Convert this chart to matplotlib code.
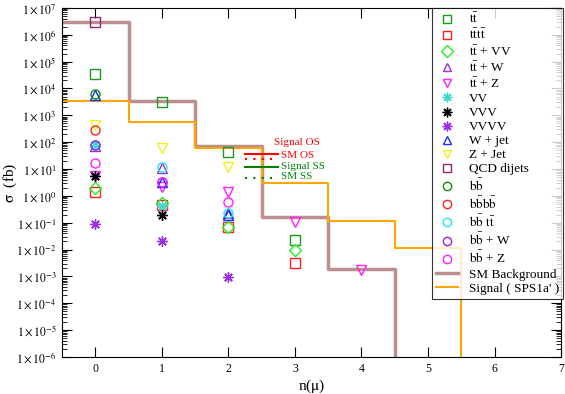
import numpy as np
import matplotlib
matplotlib.use('Agg')
import matplotlib.pyplot as plt
from matplotlib.ticker import LogLocator, FuncFormatter, NullFormatter
from matplotlib.lines import Line2D

plt.rcParams['font.family'] = ['Liberation Serif', 'DejaVu Serif']
plt.rcParams['mathtext.fontset'] = 'stix'

# 直方图: 本底与信号 (每个n(mu)一个bin)
bg_n = [0, 1, 2, 3, 4]
bg_sigma = [3.1e6, 3.3e3, 70, 0.16, 1.9e-3]
sig_n = [0, 1, 2, 3, 4, 5]
sig_sigma = [3.5e3, 580, 60, 3.0, 0.115, 0.011]

# 各SM过程截面 (fb)
tt_n = [0, 1, 2, 3]
tt_sigma = [3.5e4, 3.2e3, 44, 0.022]
tttt_n = [0, 1, 2, 3]
tttt_sigma = [1.4, 0.45, 0.069, 0.0031]
ttvv_n = [0, 1, 2, 3]
ttvv_sigma = [1.9, 0.55, 0.069, 0.0096]
ttw_n = [0, 1, 2]
ttw_sigma = [70, 11, 0.23]
ttz_n = [0, 1, 2, 3, 4]
ttz_sigma = [5.5, 2.1, 1.4, 0.107, 1.8e-3]
vv_n = [0, 1]
vv_sigma = [80, 0.42]
vvv_n = [0, 1]
vvv_sigma = [5.5, 0.19]
vvvv_n = [0, 1, 2]
vvvv_sigma = [0.09, 0.021, 9.3e-4]
wjet_n = [0, 1, 2]
wjet_sigma = [5.5e3, 3.3, 0.2]
zjet_n = [0, 1, 2]
zjet_sigma = [450, 62, 12]
qcd_n = [0]
qcd_sigma = [3.1e6]
bb_n = [0]
bb_sigma = [6.3e3]
bbbb_n = [0]
bbbb_sigma = [290]
bbtt_n = [0, 1, 2]
bbtt_sigma = [80, 12, 0.23]
bbw_n = [0, 1]
bbw_sigma = [80, 3.3]
bbz_n = [0, 1, 2]
bbz_sigma = [17, 3.3, 0.6]

STAR = (8, 2, 0)
procs = [
    (r'$\mathrm{t\bar{t}}$', tt_n, tt_sigma, 's', '#1a9a1a'),
    (r'$\mathrm{t\bar{t}t\bar{t}}$', tttt_n, tttt_sigma, 's', '#ff2020'),
    (r'$\mathrm{t\bar{t}}$ + VV', ttvv_n, ttvv_sigma, 'D', '#22ee22'),
    (r'$\mathrm{t\bar{t}}$ + W', ttw_n, ttw_sigma, '^', '#9a30d0'),
    (r'$\mathrm{t\bar{t}}$ + Z', ttz_n, ttz_sigma, 'v', '#ff20ff'),
    ('VV', vv_n, vv_sigma, STAR, '#40d8d0'),
    ('VVV', vvv_n, vvv_sigma, STAR, 'black'),
    ('VVVV', vvvv_n, vvvv_sigma, STAR, '#9a30e0'),
    ('W + jet', wjet_n, wjet_sigma, '^', '#1030ff'),
    ('Z + Jet', zjet_n, zjet_sigma, 'v', '#f0f020'),
    ('QCD dijets', qcd_n, qcd_sigma, 's', '#8a2a6a'),
    (r'$\mathrm{b\bar{b}}$', bb_n, bb_sigma, 'o', '#108a10'),
    (r'$\mathrm{b\bar{b}b\bar{b}}$', bbbb_n, bbbb_sigma, 'o', '#ff2020'),
    (r'$\mathrm{b\bar{b}\ t\bar{t}}$', bbtt_n, bbtt_sigma, 'o', '#20e8f0'),
    (r'$\mathrm{b\bar{b}}$ + W', bbw_n, bbw_sigma, 'o', '#9a20d8'),
    (r'$\mathrm{b\bar{b}}$ + Z', bbz_n, bbz_sigma, 'o', '#ff20ff'),
]

fig = plt.figure(figsize=(5.65, 3.94), dpi=100)
ax = fig.add_axes([0.110, 0.094, 0.883, 0.886])

# 阶梯线
edges_bg = np.append(np.array(bg_n) - 0.5, bg_n[-1] + 0.5)
edges_sig = np.append(np.array(sig_n) - 0.5, sig_n[-1] + 0.5)
ax.step(edges_bg, np.append(bg_sigma, 1e-9), where='post',
        color='#bc8f8f', linewidth=2.5, zorder=2)
ax.step(edges_sig, np.append(sig_sigma, 1e-9), where='post',
        color='#ffa500', linewidth=1.5, zorder=2)

handles = []
for label, n, s, mk, c in procs:
    ms = 6.5 if mk != STAR else 7.5
    ax.plot(n, s, linestyle='none', marker=mk, markersize=ms,
            markerfacecolor='none', markeredgecolor=c, markeredgewidth=1.0,
            zorder=3)
    handles.append(Line2D([], [], linestyle='none', marker=mk, markersize=ms - 0.5,
                          markerfacecolor='none', markeredgecolor=c,
                          markeredgewidth=1.0, label=label))
handles.append(Line2D([], [], color='#bc8f8f', linewidth=2.5, label='SM Background'))
handles.append(Line2D([], [], color='#ffa500', linewidth=1.5, label="Signal ( SPS1a' )"))

ax.set_yscale('log')
ax.set_ylim(1e-6, 1e7)
ax.set_xlim(-0.5, 7)
ax.set_xticks(range(0, 8))
ax.yaxis.set_major_locator(LogLocator(base=10, numticks=30))
ax.yaxis.set_minor_locator(LogLocator(base=10, subs=np.arange(2, 10), numticks=300))
ax.yaxis.set_minor_formatter(NullFormatter())
ax.yaxis.set_major_formatter(FuncFormatter(lambda v, p: r'$1\times10^{%d}$' % round(np.log10(v))))
ax.tick_params(axis='both', which='major', direction='in', length=7, width=0.8,
               top=True, right=True, labelsize=8.5, pad=4)
ax.tick_params(axis='both', which='minor', direction='in', length=3.5, width=0.6,
               top=True, right=True)
ax.tick_params(axis='x', which='minor', top=False, bottom=False)

ax.set_xlabel(r'n($\mathrm{\mu}$)', fontsize=11, labelpad=2)
ax.set_ylabel(r'$\mathrm{\sigma}$  (fb)', fontsize=11)
ax.yaxis.set_label_coords(-0.086, 0.5)

leg = ax.legend(handles=handles, loc='upper right', fontsize=9.5, frameon=True,
                fancybox=False, edgecolor='black', borderaxespad=0.0,
                handlelength=1.7, handletextpad=0.8, labelspacing=0.14,
                borderpad=0.3, bbox_to_anchor=(1.004, 1.0))
leg.get_frame().set_linewidth(0.8)

# 小图例 (OS / SS)
tr = ax.transAxes
ax.text(0.425, 0.613, 'Signal OS', color='red', fontsize=8, transform=tr, va='center')
ax.plot([0.367, 0.433], [0.582, 0.582], color='red', lw=1.5, transform=tr)
ax.text(0.439, 0.578, 'SM OS', color='red', fontsize=8, transform=tr, va='center')
ax.plot([0.367, 0.433], [0.566, 0.566], color='red', lw=1.5, ls=(0, (1, 3)), transform=tr)
ax.plot([0.367, 0.433], [0.544, 0.544], color='green', lw=1.5, transform=tr)
ax.text(0.439, 0.547, 'Signal SS', color='green', fontsize=8, transform=tr, va='center')
ax.plot([0.367, 0.430], [0.513, 0.513], color='green', lw=1.5, ls=(0, (1, 3)), transform=tr)
ax.text(0.439, 0.516, 'SM SS', color='green', fontsize=8, transform=tr, va='center')

fig.savefig('out.png', dpi=100)
